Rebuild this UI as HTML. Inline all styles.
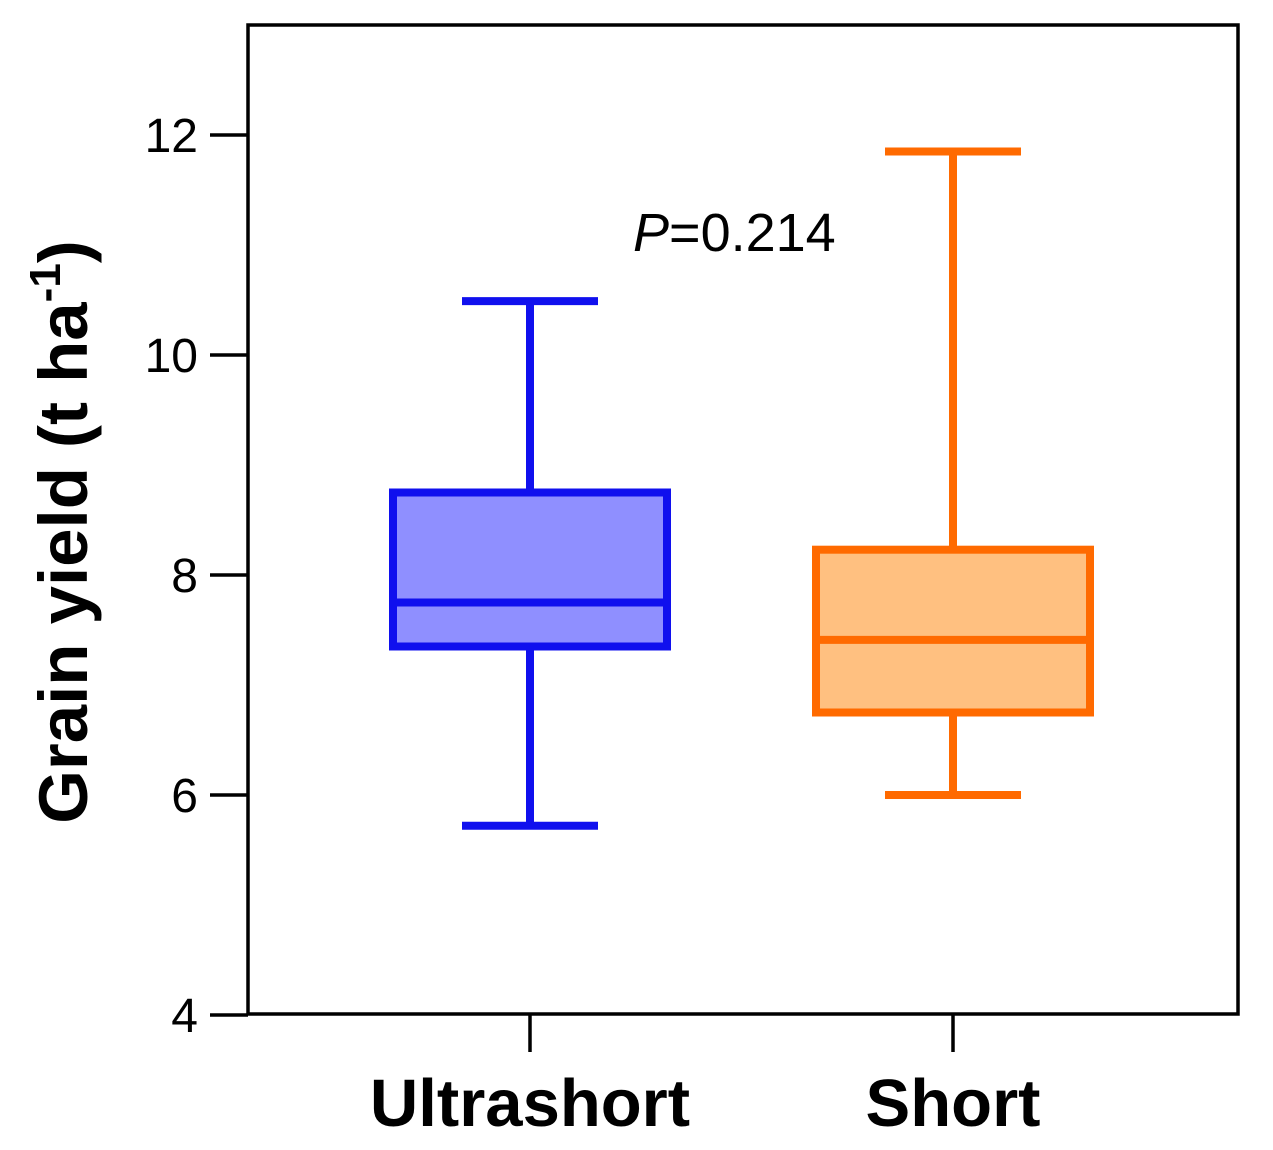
<!DOCTYPE html>
<html><head><meta charset="utf-8"><style>
html,body{margin:0;padding:0;background:#fff;}
svg{display:block;font-family:"Liberation Sans",Arial,sans-serif;}
</style></head><body>
<svg id="chart" width="1273" height="1150" viewBox="0 0 1273 1150" xmlns="http://www.w3.org/2000/svg">
<rect x="248" y="25" width="990" height="989" fill="none" stroke="#000" stroke-width="3.5"/>
<g id="yaxis"></g>
<g id="xaxis"></g>
<g id="boxes"></g>
<text x="633" y="251" font-size="54" fill="#000"><tspan font-style="italic">P</tspan>=0.214</text>
<text transform="translate(87,532) rotate(-90)" text-anchor="middle" font-size="69" font-weight="bold" fill="#000">Grain yield (t ha<tspan dy="-27" font-size="44">-1</tspan><tspan dy="27">)</tspan></text>
</svg>
<script>
const categories = ["Ultrashort", "Short"];
const mins = [5.72, 6.0];
const q1s = [7.35, 6.75];
const medians = [7.75, 7.41];
const q3s = [8.75, 8.23];
const maxs = [10.49, 11.85];
const yTicks = [4, 6, 8, 10, 12];
const strokeColors = ["#1010ee", "#ff6a00"];
const fillColors = ["#8f8fff", "#ffc080"];

const NS = "http://www.w3.org/2000/svg";
const y = v => 1015 - (v - 4) * 110;
const xCenters = [530, 953];
const x = i => xCenters[i];
function mk(tag, attrs, parent){const e=document.createElementNS(NS,tag);for(const k in attrs)e.setAttribute(k,attrs[k]);parent.appendChild(e);return e;}
const yg=document.getElementById('yaxis'), xg=document.getElementById('xaxis'), bg=document.getElementById('boxes');
yTicks.forEach(t=>{
  const l=mk('line',{x1:210,x2:248,y1:y(t),y2:y(t),stroke:'#000','stroke-width':3.5},yg);
  
  
  const tx=mk('text',{x:198,y:y(t)+17,'text-anchor':'end','font-size':48,fill:'#000'},yg);
  tx.textContent=t;
  
  
});
categories.forEach((c,i)=>{
  const l=mk('line',{x1:x(i),x2:x(i),y1:1014,y2:1052,stroke:'#000','stroke-width':3.5},xg);
  
  
  const tx=mk('text',{x:x(i),y:1126,'text-anchor':'middle','font-size':67,'font-weight':'bold',fill:'#000'},xg);
  tx.textContent=c;
  
  
  const g=mk('g',{},bg);
  
  
  const col=strokeColors[i], hw=137, cw=68, sw=8;
  mk('line',{x1:x(i),x2:x(i),y1:y(maxs[i]),y2:y(q3s[i]),stroke:col,'stroke-width':sw},g);
  mk('line',{x1:x(i),x2:x(i),y1:y(q1s[i]),y2:y(mins[i]),stroke:col,'stroke-width':sw},g);
  mk('line',{x1:x(i)-cw,x2:x(i)+cw,y1:y(maxs[i]),y2:y(maxs[i]),stroke:col,'stroke-width':sw},g);
  mk('line',{x1:x(i)-cw,x2:x(i)+cw,y1:y(mins[i]),y2:y(mins[i]),stroke:col,'stroke-width':sw},g);
  mk('rect',{x:x(i)-hw,y:y(q3s[i]),width:2*hw,height:y(q1s[i])-y(q3s[i]),fill:fillColors[i],stroke:col,'stroke-width':sw},g);
  mk('line',{x1:x(i)-hw,x2:x(i)+hw,y1:y(medians[i]),y2:y(medians[i]),stroke:col,'stroke-width':sw},g);
});
</script>
</body></html>
